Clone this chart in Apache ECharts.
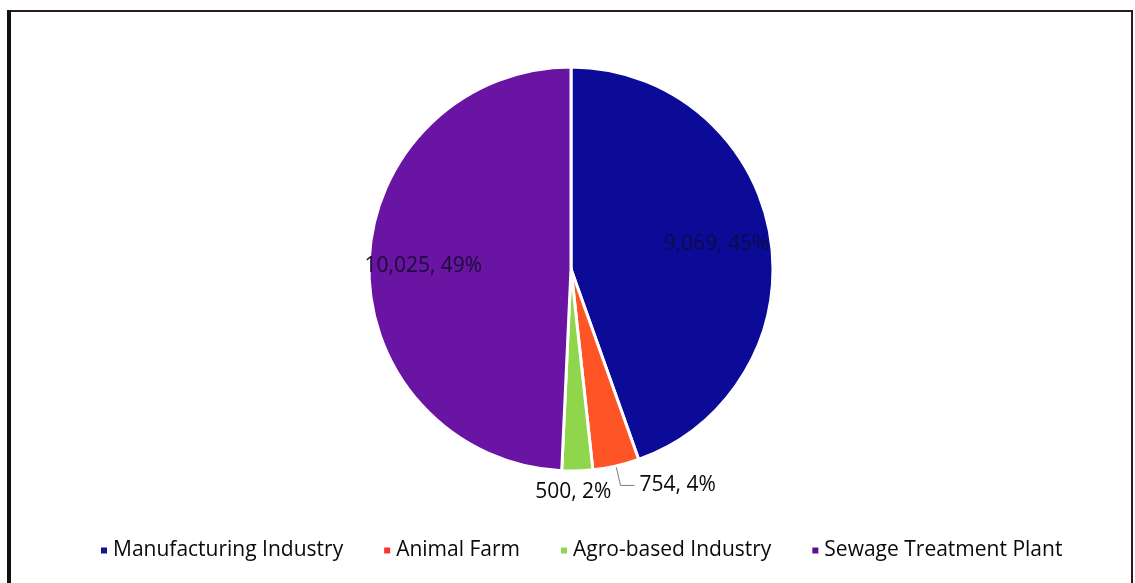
<!DOCTYPE html>
<html>
<head>
<meta charset="utf-8">
<script src="https://cdn.jsdelivr.net/npm/echarts@6/dist/echarts.min.js"></script>
<style>
html,body{margin:0;padding:0;background:#fff;}
#chart{width:1135px;height:583px;}
</style>
</head>
<body>
<div id="chart"></div>
<script>
const categories = ['Manufacturing Industry', 'Animal Farm', 'Agro-based Industry', 'Sewage Treatment Plant'];
const values = [9069, 754, 500, 10025];
const percentLabels = ['45%', '4%', '2%', '49%'];
const sliceColors = ['#0b0b98', '#ff5426', '#90d64c', '#6a14a4'];
const legendColors = ['#14148c', '#ff3030', '#8ed650', '#5c1090'];

const CX = 571, CY = 269, R = 202;
const FONT = 'Open Sans';

function fmt(n){ return n.toLocaleString('en-US'); }

const total = values.reduce((a,b)=>a+b,0);
const data = categories.map((c, i) => {
  const small = values[i] / total < 0.1;
  return {
    name: c,
    value: values[i],
    itemStyle: { color: sliceColors[i] },
    label: small ? {
      position: 'outside', color: '#0a0a0a'
    } : {
      position: 'inside', color: i === 0 ? '#0c0c48' : '#1c0c34'
    },
    labelLine: { show: i === 1 }
  };
});

const chart = echarts.init(document.getElementById('chart'), null, {renderer: 'canvas'});
chart.setOption({
  backgroundColor: '#ffffff',
  animation: false,
  graphic: [
    { type: 'rect', shape: { x: 9, y: 11, width: 1123, height: 620 }, style: { fill: 'none', stroke: '#2a1a22', lineWidth: 2 }, silent: true },
    { type: 'line', shape: { x1: 9, y1: 10, x2: 9, y2: 583 }, style: { stroke: '#111', lineWidth: 4 }, silent: true }
  ],
  legend: {
    bottom: 17,
    left: 94,
    itemWidth: 8,
    itemHeight: 8,
    itemGap: 39,
    icon: 'rect',
    textStyle: { fontFamily: FONT, fontSize: 21, color: '#0a0a0a' },
    data: categories.map((c, i) => ({ name: c, itemStyle: { color: legendColors[i] } }))
  },
  series: [{
    type: 'pie',
    center: [CX, CY],
    radius: [0, R],
    startAngle: 90,
    clockwise: true,
    avoidLabelOverlap: false,
    itemStyle: { borderColor: '#ffffff', borderWidth: 3 },
    label: {
      fontFamily: FONT,
      fontSize: 21,
      formatter: p => fmt(p.value) + ', ' + percentLabels[p.dataIndex]
    },
    labelLine: { length: 20, length2: 14, lineStyle: { color: '#7a7a8a', width: 1 } },
    labelLayout: function (p) {
      const i = p.dataIndex;
      const lr = p.labelRect;
      if (i === 0 || i === 3) {
        const lx = lr.x + lr.width / 2, ly = lr.y + lr.height / 2;
        const k = 1.42;
        return { dx: (lx - CX) * (k - 1), dy: (ly - CY) * (k - 1) };
      }
      if (i === 2) {
        const r = p.rect;
        return { x: r.x + r.width / 2 - 4, y: r.y + r.height + 20, align: 'center', verticalAlign: 'middle' };
      }
      return {};
    },
    data: data
  }]
});
</script>
</body>
</html>
